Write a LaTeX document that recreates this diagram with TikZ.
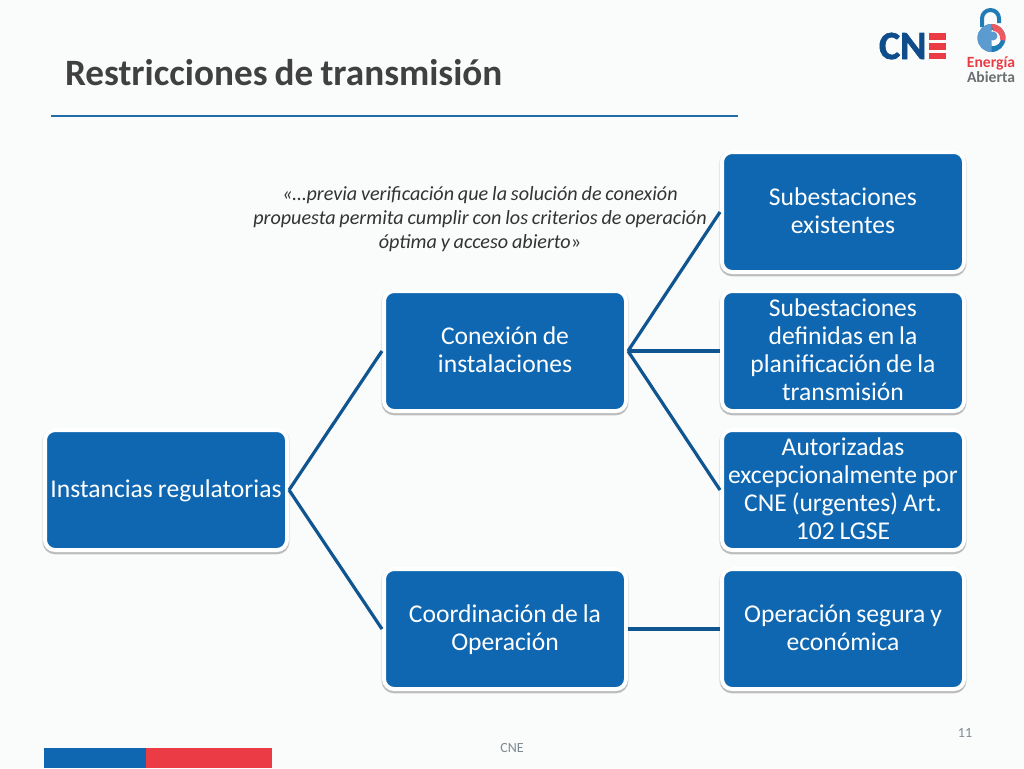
\documentclass[tikz,border=0pt]{standalone}
\usepackage{fontspec}
\setmainfont{Carlito}[WordSpace=0.85]
\newfontfamily\cnfont{Carlito}[BoldFeatures={FakeBold=1.6}]
\usetikzlibrary{shadows}
\definecolor{pagebg}{HTML}{FAFBFB}
\definecolor{boxblue}{HTML}{0F67B1}
\definecolor{linkblue}{HTML}{0F5590}
\definecolor{rulecol}{HTML}{1F6EA8}
\definecolor{titlecol}{HTML}{404040}
\definecolor{cnered}{HTML}{EB3C46}
\definecolor{cneblue}{HTML}{0F4C8A}
\definecolor{foot}{HTML}{7F8A90}
\definecolor{abgray}{HTML}{6B6E70}
\definecolor{lockblue}{HTML}{1F7CB5}
\definecolor{lockpale}{HTML}{5C9BCF}
\tikzset{
  x=0.75pt,y=-0.75pt,
  smartbox/.style={rectangle,rounded corners=7.5pt,fill=boxblue,draw=white,line width=3pt,
    minimum width=181.5pt,minimum height=90pt,inner sep=0pt,align=flush center,text=white,
    text width=178pt,font=\fontsize{19.2}{21}\selectfont,
    execute at begin node={\rule{0pt}{15pt}},
    execute at end node={\rule[-4pt]{0pt}{4pt}},
    preaction={draw=black,draw opacity=.06,line width=4.6pt,transform canvas={yshift=-0.8pt}},
    preaction={draw=black,draw opacity=.20,line width=3.2pt,transform canvas={yshift=-1.6pt}}},
  linkline/.style={draw=linkblue,line width=2.4pt,line join=miter},
  plain/.style={inner sep=0pt,outer sep=0pt},
}
\begin{document}
\begin{tikzpicture}
\useasboundingbox (0,0) rectangle (1024,768);
\fill[pagebg] (0,0) rectangle (1024,768);
% title and rule
\node[plain,anchor=base west,text=titlecol,font=\fontsize{27.9}{30}\selectfont\bfseries] (title) at (65,85) {Restricciones de transmisión};
\coordinate (ruleA) at (51,116);
\coordinate (ruleB) at (738,116);
\draw[rulecol,line width=1pt] (ruleA) -- (ruleB);
% boxes
\node[smartbox] (inst) at (166,490) {Instancias regulatorias};
\node[smartbox] (conex) at (505,351) {Conexión de\\instalaciones};
\node[smartbox] (coord) at (505,629) {Coordinación de la\\Operación};
\node[smartbox] (sub1) at (843,212) {Subestaciones\\existentes};
\node[smartbox] (sub2) at (843,351) {Subestaciones\\definidas en la\\planificación de la\\transmisión};
\node[smartbox] (sub3) at (843,490) {Autorizadas\\excepcionalmente por\\CNE (urgentes) Art.\\102 LGSE};
\node[smartbox] (oper) at (843,629) {Operación segura y\\económica};
% connectors
\draw[linkline] (inst.east) -- (conex.west);
\draw[linkline] (inst.east) -- (coord.west);
\draw[linkline] (conex.east) -- (sub1.west);
\draw[linkline] (conex.east) -- (sub2.west);
\draw[linkline] (conex.east) -- (sub3.west);
\draw[linkline] (coord.east) -- (oper.west);
% quote
\node[plain,align=center,text=black!80,font=\fontsize{15.1}{18}\selectfont\itshape] (quote) at (480,219.5)
  {«…previa verificación que la solución de conexión\\propuesta permita cumplir con los criterios de operación\\óptima y acceso abierto{\upshape»}};
% footer
\fill[boxblue] (44,748) rectangle (146,768);
\fill[cnered] (146,748) rectangle (272,768);
\node[plain,text=foot,font=\fontsize{10.5}{12}\selectfont] (foot) at (512,748) {CNE};
\node[plain,text=foot,font=\fontsize{10.5}{12}\selectfont] (page) at (965,733) {11};
% CNE logo
\node[plain,anchor=base west,text=cneblue,font=\fontsize{30}{30}\selectfont\cnfont\bfseries] (cn) at (879,59) {CN};
\fill[cnered] (929,33) rectangle (946,40);
\fill[cnered] (929,43) rectangle (946,49.5);
\fill[cnered] (929,52.5) rectangle (946,59);
% Energia Abierta logo
\draw[lockblue,line width=3pt] (982,27) -- (982,18.5) arc[start angle=180,end angle=360,radius=8.5] -- (999,23);
\fill[lockblue] (991.5,38) circle[radius=14];
\fill[white] (993,38) circle[radius=8];
\fill[cnered!85!white] (991.5,24) arc[start angle=-90,end angle=12,radius=14] -- (1000,39.5) arc[start angle=12,end angle=-90,radius=7] -- cycle;
\fill[lockpale] (991.5,24) arc[start angle=-90,end angle=-270,radius=14] -- cycle;
\fill[lockpale] (993,36) circle[radius=4.5];
\node[plain,align=center,font=\fontsize{11.7}{9.2}\selectfont\bfseries] (ener) at (991,69.5) {\textcolor{cnered}{Energía}\\\textcolor{abgray}{Abierta}};
\end{tikzpicture}
\end{document}
